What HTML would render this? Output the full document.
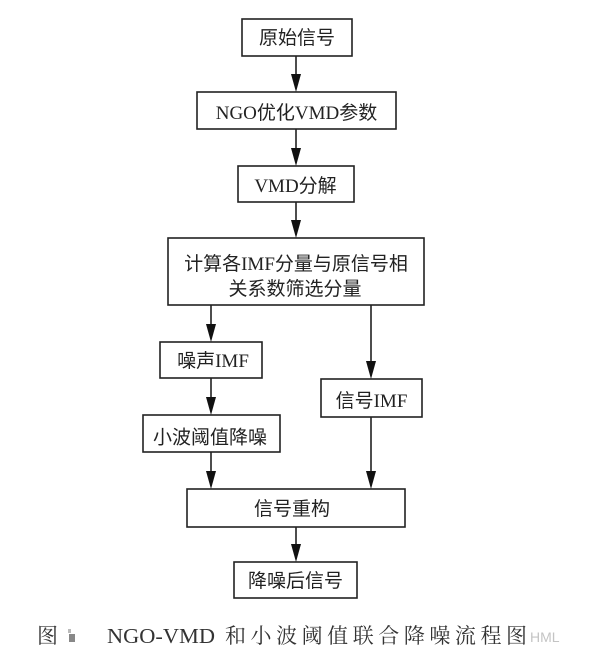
<!DOCTYPE html>
<html><head><meta charset="utf-8"><style>
html,body{margin:0;padding:0;background:#fff;}
svg{display:block;}
.t{font-family:"Liberation Serif","Noto Sans CJK SC",sans-serif;font-size:19px;fill:#222;text-anchor:middle;}
.c{font-family:"Liberation Serif","Noto Serif CJK SC",serif;font-size:21px;fill:#333;}
</style></head><body>
<svg width="600" height="652" viewBox="0 0 600 652" xmlns="http://www.w3.org/2000/svg">
<g fill="none" stroke="#222" stroke-width="1.6">
<rect x="242" y="19" width="110" height="37"/>
<rect x="197" y="92" width="199" height="37"/>
<rect x="238" y="166" width="116" height="36"/>
<rect x="168" y="238" width="256" height="67"/>
<rect x="160" y="342" width="102" height="36"/>
<rect x="321" y="379" width="101" height="38"/>
<rect x="143" y="415" width="137" height="37"/>
<rect x="187" y="489" width="218" height="38"/>
<rect x="234" y="562" width="123" height="36"/>
<line x1="296" y1="56" x2="296" y2="76"/>
<line x1="296" y1="129" x2="296" y2="150"/>
<line x1="296" y1="202" x2="296" y2="222"/>
<line x1="211" y1="305" x2="211" y2="326"/>
<line x1="371" y1="305" x2="371" y2="363"/>
<line x1="211" y1="378" x2="211" y2="399"/>
<line x1="211" y1="452" x2="211" y2="473"/>
<line x1="371" y1="417" x2="371" y2="473"/>
<line x1="296" y1="527" x2="296" y2="546"/>
</g>
<g fill="#111">
<polygon points="291,74 301,74 296,92"/>
<polygon points="291,148 301,148 296,166"/>
<polygon points="291,220 301,220 296,238"/>
<polygon points="206,324 216,324 211,342"/>
<polygon points="366,361 376,361 371,379"/>
<polygon points="206,397 216,397 211,415"/>
<polygon points="206,471 216,471 211,489"/>
<polygon points="366,471 376,471 371,489"/>
<polygon points="291,544 301,544 296,562"/>
</g>
<text class="t" x="297" y="44">原始信号</text>
<text class="t" x="296.5" y="119">NGO优化VMD参数</text>
<text class="t" x="295.5" y="192">VMD分解</text>
<text class="t" x="296" y="270">计算各IMF分量与原信号相</text>
<text class="t" x="295" y="295">关系数筛选分量</text>
<text class="t" x="213" y="367">噪声IMF</text>
<text class="t" x="371.5" y="407">信号IMF</text>
<text class="t" x="210" y="443.5">小波阈值降噪</text>
<text class="t" x="292" y="515">信号重构</text>
<text class="t" x="295.5" y="587">降噪后信号</text>
<text class="c" x="37" y="643">图</text>
<rect x="68" y="629" width="3" height="4" fill="#bbb"/>
<rect x="69" y="634" width="6" height="8" fill="#888"/>
<text class="c" x="107" y="643" font-size="22" textLength="108" lengthAdjust="spacingAndGlyphs">NGO-VMD</text>
<text class="c" x="225" y="643" textLength="302" lengthAdjust="spacing">和小波阈值联合降噪流程图</text>
<text x="530" y="642" font-family="Liberation Sans, sans-serif" font-size="14" fill="#c4c4c4">HML</text>
</svg>
</body></html>
